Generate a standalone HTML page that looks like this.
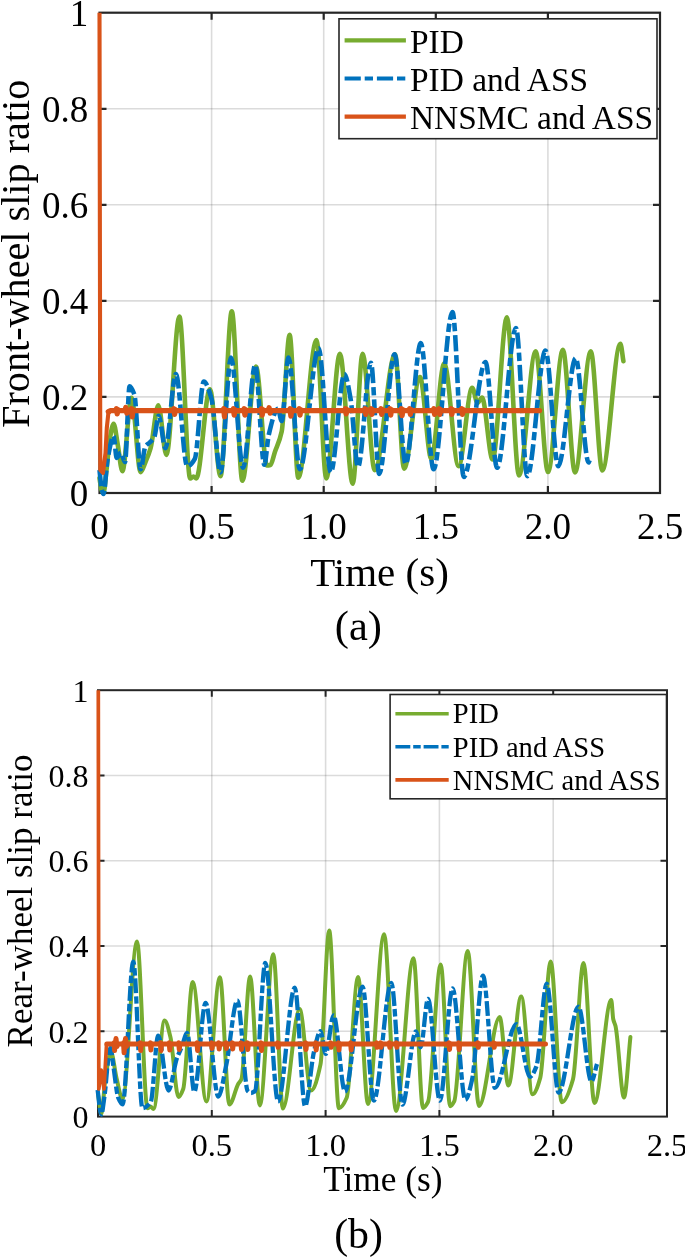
<!DOCTYPE html>
<html><head><meta charset="utf-8"><style>
html,body{margin:0;padding:0;background:#fff;}
body{width:685px;height:1257px;overflow:hidden;}
svg{display:block;font-family:"Liberation Serif",serif;fill:#000;will-change:transform;}
text{fill:#000;}
</style></head><body>
<svg width="685" height="1257" viewBox="0 0 685 1257">
<line x1="211.6" y1="12.7" x2="211.6" y2="493.0" stroke="#000" stroke-opacity="0.14" stroke-width="1.6"/>
<line x1="323.7" y1="12.7" x2="323.7" y2="493.0" stroke="#000" stroke-opacity="0.14" stroke-width="1.6"/>
<line x1="435.8" y1="12.7" x2="435.8" y2="493.0" stroke="#000" stroke-opacity="0.14" stroke-width="1.6"/>
<line x1="547.9" y1="12.7" x2="547.9" y2="493.0" stroke="#000" stroke-opacity="0.14" stroke-width="1.6"/>
<line x1="99.5" y1="396.9" x2="660.0" y2="396.9" stroke="#000" stroke-opacity="0.14" stroke-width="1.6"/>
<line x1="99.5" y1="300.9" x2="660.0" y2="300.9" stroke="#000" stroke-opacity="0.14" stroke-width="1.6"/>
<line x1="99.5" y1="204.8" x2="660.0" y2="204.8" stroke="#000" stroke-opacity="0.14" stroke-width="1.6"/>
<line x1="99.5" y1="108.8" x2="660.0" y2="108.8" stroke="#000" stroke-opacity="0.14" stroke-width="1.6"/>
<path d="M211.6 493.0V486.0M211.6 12.7V19.7M323.7 493.0V486.0M323.7 12.7V19.7M435.8 493.0V486.0M435.8 12.7V19.7M547.9 493.0V486.0M547.9 12.7V19.7M99.5 396.9H106.5M660.0 396.9H653.0M99.5 300.9H106.5M660.0 300.9H653.0M99.5 204.8H106.5M660.0 204.8H653.0M99.5 108.8H106.5M660.0 108.8H653.0" stroke="#262626" stroke-width="2.2" fill="none"/>
<rect x="99.5" y="12.7" width="560.5" height="480.3" fill="none" stroke="#262626" stroke-width="2.2"/>
<path d="M99.5 478.0C100.2 482.0 100.8 488.4 101.5 490.0C102.2 491.6 102.8 493.0 103.5 493.0C104.5 493.0 105.5 478.3 106.5 470.0C107.7 460.3 108.8 444.5 110.0 438.0C111.2 431.3 112.4 423.7 113.6 423.7C115.0 423.7 116.4 437.5 117.8 445.0C119.3 453.2 120.9 471.3 122.4 471.3C125.4 471.3 128.5 397.7 131.5 397.7C134.5 397.7 137.6 472.1 140.6 472.1C142.2 472.1 143.9 465.8 145.5 462.0C147.2 458.0 148.9 454.3 150.6 448.2C153.2 439.1 155.7 405.3 158.3 405.3C161.0 405.3 163.7 454.9 166.4 454.9C170.7 454.9 175.1 316.6 179.4 316.6C183.0 316.6 186.6 478.4 190.2 478.4C191.3 478.4 192.4 476.5 193.5 476.5C194.4 476.5 195.4 478.4 196.3 478.4C200.8 478.4 205.4 389.2 209.9 389.2C213.4 389.2 217.0 476.1 220.5 476.1C224.3 476.1 228.0 311.3 231.8 311.3C235.3 311.3 238.9 480.7 242.4 480.7C246.9 480.7 251.5 366.5 256.0 366.5C259.7 366.5 263.3 465.5 267.0 465.5C268.1 465.5 269.3 465.3 270.4 465.0C271.9 464.6 273.4 456.4 274.9 452.0C277.2 445.3 279.4 442.3 281.7 431.5C284.3 418.9 287.0 334.8 289.6 334.8C292.5 334.8 295.4 477.6 298.3 477.6C304.4 477.6 310.4 340.0 316.5 340.0C319.8 340.0 323.0 478.4 326.3 478.4C330.8 478.4 335.4 353.7 339.9 353.7C344.2 353.7 348.4 483.7 352.7 483.7C356.0 483.7 359.3 353.7 362.6 353.7C366.6 353.7 370.7 470.1 374.7 470.1C381.5 470.1 388.3 354.4 395.1 354.4C398.1 354.4 401.1 468.6 404.1 468.6C409.4 468.6 414.7 377.1 420.0 377.1C423.8 377.1 427.5 458.8 431.3 458.8C435.6 458.8 439.9 363.5 444.2 363.5C449.0 363.5 453.8 466.3 458.6 466.3C463.1 466.3 467.7 387.7 472.2 387.7C474.0 387.7 475.7 403.0 477.5 403.0C479.0 403.0 480.5 397.5 482.0 397.5C485.5 397.5 489.1 459.5 492.6 459.5C497.4 459.5 502.1 317.4 506.9 317.4C510.9 317.4 515.0 475.4 519.0 475.4C524.6 475.4 530.1 351.4 535.7 351.4C539.8 351.4 543.9 472.0 548.0 472.0C553.0 472.0 557.9 349.9 562.9 349.9C566.9 349.9 571.0 472.4 575.0 472.4C580.3 472.4 585.5 351.4 590.8 351.4C594.6 351.4 598.5 470.5 602.3 470.5C608.3 470.5 614.4 343.8 620.4 343.8C621.4 343.8 622.4 355.4 623.4 361.2" stroke="#77AC30" stroke-width="4.6" fill="none" stroke-linejoin="round" stroke-linecap="round"/>
<path d="M99.5 470.0C100.2 476.0 100.8 485.0 101.5 488.0C102.2 491.0 102.8 494.0 103.5 494.0C104.8 494.0 106.2 467.3 107.5 460.0C109.5 448.8 111.6 436.1 113.6 436.1C114.6 436.1 115.7 457.9 116.7 457.9C118.1 457.9 119.4 452.7 120.8 452.7C122.2 452.7 123.6 462.0 125.0 462.0C126.5 462.0 128.1 386.2 129.6 386.2C131.2 386.2 132.8 390.0 134.4 394.8C136.5 401.0 138.5 469.2 140.6 469.2C142.2 469.2 143.8 448.7 145.4 446.3C146.8 444.2 148.3 444.0 149.7 442.5C151.3 440.9 152.8 439.9 154.4 436.8C155.8 434.0 157.3 415.8 158.7 415.8C160.9 415.8 163.2 448.2 165.4 448.2C168.9 448.2 172.4 374.1 175.9 374.1C179.7 374.1 183.4 466.3 187.2 466.3C189.7 466.3 192.3 463.2 194.8 458.8C197.8 453.6 200.8 381.6 203.8 381.6C206.3 381.6 208.9 389.7 211.4 398.3C214.4 408.6 217.5 472.4 220.5 472.4C224.0 472.4 227.5 357.5 231.0 357.5C235.0 357.5 239.1 467.8 243.1 467.8C247.1 467.8 251.2 365.0 255.2 365.0C258.2 365.0 261.3 464.8 264.3 464.8C265.8 464.8 267.3 440.9 268.8 434.6C271.8 422.0 274.9 408.9 277.9 408.9C279.2 408.9 280.4 421.0 281.7 421.0C284.0 421.0 286.2 357.5 288.5 357.5C292.3 357.5 296.0 469.3 299.8 469.3C306.1 469.3 312.4 348.4 318.7 348.4C322.7 348.4 326.8 472.4 330.8 472.4C335.3 472.4 339.9 374.1 344.4 374.1C346.4 374.1 348.5 387.2 350.5 398.3C353.0 412.0 355.5 467.0 358.0 467.0C362.3 467.0 366.6 362.7 370.9 362.7C373.7 362.7 376.4 473.9 379.2 473.9C384.3 473.9 389.5 354.4 394.6 354.4C398.3 354.4 402.0 464.0 405.7 464.0C410.7 464.0 415.8 343.1 420.8 343.1C425.1 343.1 429.3 469.3 433.6 469.3C439.9 469.3 446.2 312.1 452.5 312.1C456.3 312.1 460.0 476.9 463.8 476.9C471.0 476.9 478.3 362.0 485.5 362.0C489.4 362.0 493.2 467.8 497.1 467.8C503.4 467.8 509.7 328.0 516.0 328.0C519.8 328.0 523.5 476.1 527.3 476.1C533.4 476.1 539.4 350.6 545.5 350.6C549.8 350.6 554.0 466.3 558.3 466.3C564.1 466.3 569.9 358.2 575.7 358.2C580.0 358.2 584.3 462.5 588.6 462.5C589.1 462.5 589.5 460.2 590.0 459.0" stroke="#0072BD" stroke-width="4.6" fill="none" stroke-dasharray="16 3.9 8.3 3.9" stroke-linejoin="round"/>
<path d="M99.5 12.7L100.3 470.0L103.0 473.0L105.5 453.0L106.8 428.0L108.3 413.6L110.5 410.6" stroke="#D95319" stroke-width="4.1" fill="none" stroke-linejoin="round" stroke-linecap="butt"/>
<path d="M108.3 411.6L110.5 410.6L115.7 410.6L116.4 408.8L117.2 413.8L118.0 409.6L118.6 410.6L125.0 410.6L125.8 407.5L126.8 413.1L127.6 410.6L130.7 410.6L131.4 408.8L132.2 416.8L133.0 409.6L133.6 410.6L173.1 410.6L173.8 408.8L174.6 414.4L175.4 409.6L176.0 410.6L223.0 410.6L223.7 408.8L224.5 416.8L225.3 409.6L225.9 410.6L232.7 410.6L233.4 408.8L234.2 415.0L235.0 409.6L235.6 410.6L243.4 410.6L244.1 408.8L244.9 415.0L245.7 409.6L246.3 410.6L260.7 410.6L261.4 408.8L262.2 415.0L263.0 409.6L263.6 410.6L268.3 410.6L269.1 407.8L270.1 413.1L270.9 410.6L289.4 410.6L290.1 408.8L290.9 416.2L291.7 409.6L292.3 410.6L298.5 410.6L299.2 408.8L300.0 415.0L300.8 409.6L301.4 410.6L344.7 410.6L345.4 408.8L346.2 413.8L347.0 409.6L347.6 410.6L364.3 410.6L365.0 408.8L365.8 414.4L366.6 409.6L367.2 410.6L370.3 410.6L371.0 408.8L371.8 414.4L372.6 409.6L373.2 410.6L380.2 410.6L380.9 408.8L381.7 414.4L382.5 409.6L383.1 410.6L389.2 410.6L389.9 408.8L390.7 415.0L391.5 409.6L392.1 410.6L400.6 410.6L401.3 408.8L402.1 415.6L402.9 409.6L403.5 410.6L408.9 410.6L409.6 408.8L410.4 414.4L411.2 409.6L411.8 410.6L433.1 410.6L433.8 408.8L434.6 414.4L435.4 409.6L436.0 410.6L438.4 410.6L439.1 408.8L439.9 414.4L440.7 409.6L441.3 410.6L450.4 410.6L451.1 408.8L451.9 414.4L452.7 409.6L453.3 410.6L461.0 410.6L461.7 408.8L462.5 414.4L463.3 409.6L463.9 410.6L539.5 410.6" stroke="#D95319" stroke-width="5.3" fill="none" stroke-linejoin="round" stroke-linecap="round"/>
<text transform="translate(88.3,506.2)" font-size="37" text-anchor="end">0</text>
<text transform="translate(88.3,410.1)" font-size="37" text-anchor="end">0.2</text>
<text transform="translate(88.3,314.1)" font-size="37" text-anchor="end">0.4</text>
<text transform="translate(88.3,218.0)" font-size="37" text-anchor="end">0.6</text>
<text transform="translate(88.3,122.0)" font-size="37" text-anchor="end">0.8</text>
<text transform="translate(88.3,25.9)" font-size="37" text-anchor="end">1</text>
<text transform="translate(99.5,538.6)" font-size="37" text-anchor="middle">0</text>
<text transform="translate(211.6,538.6)" font-size="37" text-anchor="middle">0.5</text>
<text transform="translate(323.7,538.6)" font-size="37" text-anchor="middle">1.0</text>
<text transform="translate(435.8,538.6)" font-size="37" text-anchor="middle">1.5</text>
<text transform="translate(547.9,538.6)" font-size="37" text-anchor="middle">2.0</text>
<text transform="translate(660.0,538.6)" font-size="37" text-anchor="middle">2.5</text>
<text transform="translate(379.5,585.7)" font-size="41" text-anchor="middle">Time (s)</text>
<text transform="translate(358.4,639.6)" font-size="42.5" text-anchor="middle">(a)</text>
<text transform="translate(28.5,253.8) rotate(-90)" font-size="40.2" text-anchor="middle">Front-wheel slip ratio</text>
<rect x="339" y="18.8" width="318" height="119.9" fill="#fff" stroke="#262626" stroke-width="1.6"/>
<line x1="344.6" y1="40.4" x2="405.9" y2="40.4" stroke="#77AC30" stroke-width="4.2"/>
<text transform="translate(410.0,53.0)" font-size="33.4" text-anchor="start">PID</text>
<line x1="344.6" y1="78.5" x2="405.9" y2="78.5" stroke="#0072BD" stroke-width="4.2" stroke-dasharray="16.2 3.9 8.3 3.9"/>
<text transform="translate(410.0,90.8)" font-size="33.4" text-anchor="start">PID and ASS</text>
<line x1="344.6" y1="116.7" x2="405.9" y2="116.7" stroke="#D95319" stroke-width="4.2"/>
<text transform="translate(410.0,128.7)" font-size="33.4" text-anchor="start">NNSMC and ASS</text>
<line x1="211.8" y1="690.2" x2="211.8" y2="1116.6" stroke="#000" stroke-opacity="0.14" stroke-width="1.6"/>
<line x1="325.6" y1="690.2" x2="325.6" y2="1116.6" stroke="#000" stroke-opacity="0.14" stroke-width="1.6"/>
<line x1="439.4" y1="690.2" x2="439.4" y2="1116.6" stroke="#000" stroke-opacity="0.14" stroke-width="1.6"/>
<line x1="553.2" y1="690.2" x2="553.2" y2="1116.6" stroke="#000" stroke-opacity="0.14" stroke-width="1.6"/>
<line x1="98.0" y1="1031.3" x2="667.0" y2="1031.3" stroke="#000" stroke-opacity="0.14" stroke-width="1.6"/>
<line x1="98.0" y1="946.0" x2="667.0" y2="946.0" stroke="#000" stroke-opacity="0.14" stroke-width="1.6"/>
<line x1="98.0" y1="860.8" x2="667.0" y2="860.8" stroke="#000" stroke-opacity="0.14" stroke-width="1.6"/>
<line x1="98.0" y1="775.5" x2="667.0" y2="775.5" stroke="#000" stroke-opacity="0.14" stroke-width="1.6"/>
<path d="M211.8 1116.6V1110.1M211.8 690.2V696.7M325.6 1116.6V1110.1M325.6 690.2V696.7M439.4 1116.6V1110.1M439.4 690.2V696.7M553.2 1116.6V1110.1M553.2 690.2V696.7M98.0 1031.3H104.5M667.0 1031.3H660.5M98.0 946.0H104.5M667.0 946.0H660.5M98.0 860.8H104.5M667.0 860.8H660.5M98.0 775.5H104.5M667.0 775.5H660.5" stroke="#262626" stroke-width="2.0" fill="none"/>
<rect x="98.0" y="690.2" width="569.0" height="426.4" fill="none" stroke="#262626" stroke-width="2.0"/>
<path d="M98.3 1096.0C99.3 1102.0 100.3 1114.0 101.3 1114.0C102.7 1114.0 104.1 1086.6 105.5 1078.0C107.3 1066.7 109.2 1052.0 111.0 1052.0C112.8 1052.0 114.7 1070.6 116.5 1078.0C118.5 1086.1 120.5 1099.0 122.5 1099.0C127.3 1099.0 132.2 941.5 137.0 941.5C140.5 941.5 144.0 1108.3 147.5 1108.3C148.5 1108.3 149.5 1106.5 150.5 1106.5C151.5 1106.5 152.5 1109.0 153.5 1109.0C157.2 1109.0 160.9 1020.5 164.6 1020.5C166.5 1020.5 168.5 1029.2 170.4 1037.0C173.1 1047.7 175.7 1097.0 178.4 1097.0C180.0 1097.0 181.6 1093.3 183.2 1089.0C186.4 1080.5 189.5 982.1 192.7 982.1C197.3 982.1 201.8 1101.4 206.4 1101.4C210.9 1101.4 215.4 977.3 219.9 977.3C223.1 977.3 226.2 1104.6 229.4 1104.6C232.3 1104.6 235.3 1089.2 238.2 1084.0C239.3 1082.1 240.3 1081.7 241.4 1079.2C244.3 1072.3 247.2 976.5 250.1 976.5C253.3 976.5 256.6 1105.4 259.8 1105.4C264.3 1105.4 268.8 954.2 273.3 954.2C276.5 954.2 279.7 1108.6 282.9 1108.6C288.5 1108.6 294.0 1009.1 299.6 1009.1C303.4 1009.1 307.2 1090.5 311.0 1090.5C314.2 1090.5 317.3 1079.3 320.5 1064.4C323.4 1050.7 326.3 930.6 329.2 930.6C332.4 930.6 335.7 1108.2 338.9 1108.2C341.5 1108.2 344.1 1103.6 346.7 1097.7C350.5 1089.0 354.3 977.0 358.1 977.0C361.4 977.0 364.7 1104.0 368.0 1104.0C373.4 1104.0 378.7 934.3 384.1 934.3C388.1 934.3 392.0 1111.0 396.0 1111.0C401.8 1111.0 407.7 958.2 413.5 958.2C416.7 958.2 419.8 1108.0 423.0 1108.0C424.7 1108.0 426.3 1105.2 428.0 1102.0C432.2 1093.8 436.5 964.6 440.7 964.6C443.9 964.6 447.0 1106.2 450.2 1106.2C451.5 1106.2 452.9 1103.9 454.2 1101.4C458.7 1092.9 463.2 951.0 467.7 951.0C471.5 951.0 475.2 1106.0 479.0 1106.0C485.9 1106.0 492.8 1017.1 499.7 1017.1C502.6 1017.1 505.5 1085.5 508.4 1085.5C512.7 1085.5 516.9 996.4 521.2 996.4C525.0 996.4 528.8 1094.3 532.6 1094.3C535.2 1094.3 537.7 1086.6 540.3 1077.6C543.8 1065.4 547.2 961.4 550.7 961.4C554.4 961.4 558.1 1102.2 561.8 1102.2C565.5 1102.2 569.3 1092.2 573.0 1079.2C576.5 1067.0 580.0 963.0 583.5 963.0C587.2 963.0 590.8 1103.0 594.5 1103.0C600.1 1103.0 605.7 1000.0 611.3 1000.0C611.9 1000.0 612.6 1016.0 613.2 1019.0C614.0 1022.6 614.7 1022.9 615.5 1026.0C618.3 1037.6 621.2 1097.5 624.0 1097.5C626.1 1097.5 628.3 1057.2 630.4 1037.0" stroke="#77AC30" stroke-width="4.0" fill="none" stroke-linejoin="round" stroke-linecap="round"/>
<path d="M97.6 1090.0C98.8 1098.2 100.0 1114.5 101.2 1114.5C102.4 1114.5 103.5 1102.9 104.7 1094.4C105.9 1085.7 107.1 1066.2 108.3 1058.6C109.0 1054.0 109.8 1048.0 110.5 1048.0C111.4 1048.0 112.4 1059.8 113.3 1065.8C115.0 1076.5 116.6 1094.0 118.3 1098.0C119.7 1101.4 121.2 1104.4 122.6 1104.4C126.2 1104.4 129.7 961.7 133.3 961.7C136.3 961.7 139.4 1108.2 142.4 1108.2C145.2 1108.2 147.9 1106.0 150.7 1102.2C153.2 1098.8 155.7 1035.7 158.2 1035.7C161.6 1035.7 165.1 1090.5 168.5 1090.5C171.3 1090.5 174.0 1066.4 176.8 1058.5C178.4 1053.9 180.0 1051.2 181.6 1047.3C183.5 1042.8 185.3 1033.0 187.2 1033.0C189.6 1033.0 191.9 1091.9 194.3 1091.9C198.1 1091.9 201.8 1002.8 205.6 1002.8C209.8 1002.8 214.1 1096.7 218.3 1096.7C221.0 1096.7 223.6 1077.3 226.3 1064.8C230.0 1047.5 233.7 1000.4 237.4 1000.4C240.8 1000.4 244.3 1087.6 247.7 1091.0C248.8 1092.1 249.9 1093.0 251.0 1093.0C252.3 1093.0 253.7 1092.1 255.0 1091.0C258.4 1088.1 261.9 963.0 265.3 963.0C269.6 963.0 273.8 1101.4 278.1 1101.4C283.7 1101.4 289.2 987.6 294.8 987.6C298.2 987.6 301.7 1106.2 305.1 1106.2C308.0 1106.2 311.0 1064.2 313.9 1052.1C316.1 1043.0 318.3 1031.2 320.5 1031.2C322.2 1031.2 324.0 1053.9 325.7 1053.9C328.3 1053.9 331.0 1015.4 333.6 1015.4C337.4 1015.4 341.2 1091.5 345.0 1091.5C350.8 1091.5 356.7 986.6 362.5 986.6C366.3 986.6 370.0 1100.6 373.8 1100.6C379.6 1100.6 385.5 982.9 391.3 982.9C395.0 982.9 398.7 1104.6 402.4 1104.6C406.9 1104.6 411.4 1031.4 415.9 1031.4C417.5 1031.4 419.1 1047.3 420.7 1047.3C423.1 1047.3 425.6 998.8 428.0 998.8C432.0 998.8 435.9 1100.6 439.9 1100.6C444.1 1100.6 448.4 988.4 452.6 988.4C456.9 988.4 461.1 1099.8 465.4 1099.8C467.6 1099.8 469.8 1089.6 472.0 1080.0C475.7 1064.0 479.3 975.7 483.0 975.7C487.0 975.7 490.9 1087.9 494.9 1087.9C502.1 1087.9 509.2 1024.2 516.4 1024.2C520.9 1024.2 525.4 1076.8 529.9 1076.8C532.1 1076.8 534.2 1071.9 536.4 1066.4C539.8 1057.7 543.3 983.7 546.7 983.7C550.7 983.7 554.6 1092.7 558.6 1092.7C565.2 1092.7 571.9 1006.7 578.5 1006.7C582.8 1006.7 587.1 1081.5 591.4 1081.5C593.3 1081.5 595.1 1069.8 597.0 1064.0" stroke="#0072BD" stroke-width="4.3" fill="none" stroke-dasharray="14.8 3 7.5 3" stroke-linejoin="round"/>
<path d="M98.3 690.2L98.8 1089.0L101.2 1070.0L104.0 1089.0L106.5 1045.0L108.0 1044.0" stroke="#D95319" stroke-width="3.7" fill="none" stroke-linejoin="round" stroke-linecap="butt"/>
<path d="M106.8 1044.0L108.0 1044.0L113.5 1044.0L114.0 1042.8L114.6 1050.6L115.2 1043.4L115.7 1044.0L115.2 1044.0L116.0 1038.5L117.0 1046.5L117.8 1044.0L123.0 1044.0L123.5 1042.8L124.1 1052.8L124.7 1043.4L125.2 1044.0L124.7 1044.0L125.5 1038.5L126.5 1046.5L127.3 1044.0L139.6 1044.0L140.1 1042.8L140.7 1050.6L141.3 1043.4L141.8 1044.0L149.8 1044.0L150.3 1042.8L150.9 1050.0L151.5 1043.4L152.0 1044.0L159.9 1044.0L160.4 1042.8L161.0 1050.6L161.6 1043.4L162.1 1044.0L168.7 1044.0L169.2 1042.8L169.8 1050.0L170.4 1043.4L170.9 1044.0L178.2 1044.0L178.7 1042.8L179.3 1049.5L179.9 1043.4L180.4 1044.0L196.5 1044.0L197.0 1042.8L197.6 1050.6L198.2 1043.4L198.7 1044.0L210.9 1044.0L211.4 1042.8L212.0 1048.4L212.6 1043.4L213.1 1044.0L218.1 1044.0L218.6 1042.8L219.2 1049.0L219.8 1043.4L220.3 1044.0L225.3 1044.0L225.8 1042.8L226.4 1048.4L227.0 1043.4L227.5 1044.0L231.6 1044.0L232.1 1042.8L232.7 1049.0L233.3 1043.4L233.8 1044.0L240.4 1044.0L240.9 1042.8L241.5 1049.5L242.1 1043.4L242.6 1044.0L246.7 1044.0L247.2 1042.8L247.8 1049.5L248.4 1043.4L248.9 1044.0L260.4 1044.0L260.9 1042.8L261.5 1050.6L262.1 1043.4L262.6 1044.0L277.1 1044.0L277.6 1042.8L278.2 1047.3L278.8 1043.4L279.3 1044.0L304.9 1044.0L305.4 1042.8L306.0 1049.5L306.6 1043.4L307.1 1044.0L315.1 1044.0L315.6 1042.8L316.2 1050.0L316.8 1043.4L317.3 1044.0L330.0 1044.0L330.5 1042.8L331.1 1047.3L331.7 1043.4L332.2 1044.0L337.9 1044.0L338.4 1042.8L339.0 1050.0L339.6 1043.4L340.1 1044.0L350.1 1044.0L350.6 1042.8L351.2 1050.0L351.8 1043.4L352.3 1044.0L376.0 1044.0L376.5 1042.8L377.1 1047.3L377.7 1043.4L378.2 1044.0L380.0 1044.0L380.5 1042.8L381.1 1047.3L381.7 1043.4L382.2 1044.0L388.7 1044.0L389.2 1042.8L389.8 1047.3L390.4 1043.4L390.9 1044.0L395.8 1044.0L396.3 1042.8L396.9 1047.3L397.5 1043.4L398.0 1044.0L448.4 1044.0L448.9 1042.8L449.5 1049.5L450.1 1043.4L450.6 1044.0L458.0 1044.0L458.5 1042.8L459.1 1049.5L459.7 1043.4L460.2 1044.0L477.2 1044.0L477.7 1042.8L478.3 1047.3L478.9 1043.4L479.4 1044.0L493.1 1044.0L493.6 1042.8L494.2 1047.3L494.8 1043.4L495.3 1044.0L545.5 1044.0" stroke="#D95319" stroke-width="5.0" fill="none" stroke-linejoin="round" stroke-linecap="round"/>
<text transform="translate(88.6,1128.0)" font-size="32" text-anchor="end">0</text>
<text transform="translate(88.6,1042.7)" font-size="32" text-anchor="end">0.2</text>
<text transform="translate(88.6,957.4)" font-size="32" text-anchor="end">0.4</text>
<text transform="translate(88.6,872.2)" font-size="32" text-anchor="end">0.6</text>
<text transform="translate(88.6,786.9)" font-size="32" text-anchor="end">0.8</text>
<text transform="translate(88.6,701.6)" font-size="32" text-anchor="end">1</text>
<text transform="translate(98.0,1156.2)" font-size="32.5" text-anchor="middle">0</text>
<text transform="translate(211.8,1156.2)" font-size="32.5" text-anchor="middle">0.5</text>
<text transform="translate(325.6,1156.2)" font-size="32.5" text-anchor="middle">1.0</text>
<text transform="translate(439.4,1156.2)" font-size="32.5" text-anchor="middle">1.5</text>
<text transform="translate(553.2,1156.2)" font-size="32.5" text-anchor="middle">2.0</text>
<text transform="translate(667.0,1156.2)" font-size="32.5" text-anchor="middle">2.5</text>
<text transform="translate(382.9,1191.4)" font-size="35.3" text-anchor="middle">Time (s)</text>
<text transform="translate(358.5,1248.0)" font-size="41.8" text-anchor="middle">(b)</text>
<text transform="translate(31.9,901.0) rotate(-90)" font-size="35.0" text-anchor="middle">Rear-wheel slip ratio</text>
<rect x="390.1" y="694.5" width="276.4" height="104.3" fill="#fff" stroke="#262626" stroke-width="1.6"/>
<line x1="395.4" y1="713.7" x2="448.7" y2="713.7" stroke="#77AC30" stroke-width="3.6"/>
<text transform="translate(452.8,723.4)" font-size="28.55" text-anchor="start">PID</text>
<line x1="395.4" y1="746.8" x2="448.7" y2="746.8" stroke="#0072BD" stroke-width="3.6" stroke-dasharray="14.9 2.9 7.5 2.9"/>
<text transform="translate(452.8,756.7)" font-size="28.55" text-anchor="start">PID and ASS</text>
<line x1="395.4" y1="779.9" x2="448.7" y2="779.9" stroke="#D95319" stroke-width="3.6"/>
<text transform="translate(452.8,790.0)" font-size="28.55" text-anchor="start">NNSMC and ASS</text>
</svg>
</body></html>
